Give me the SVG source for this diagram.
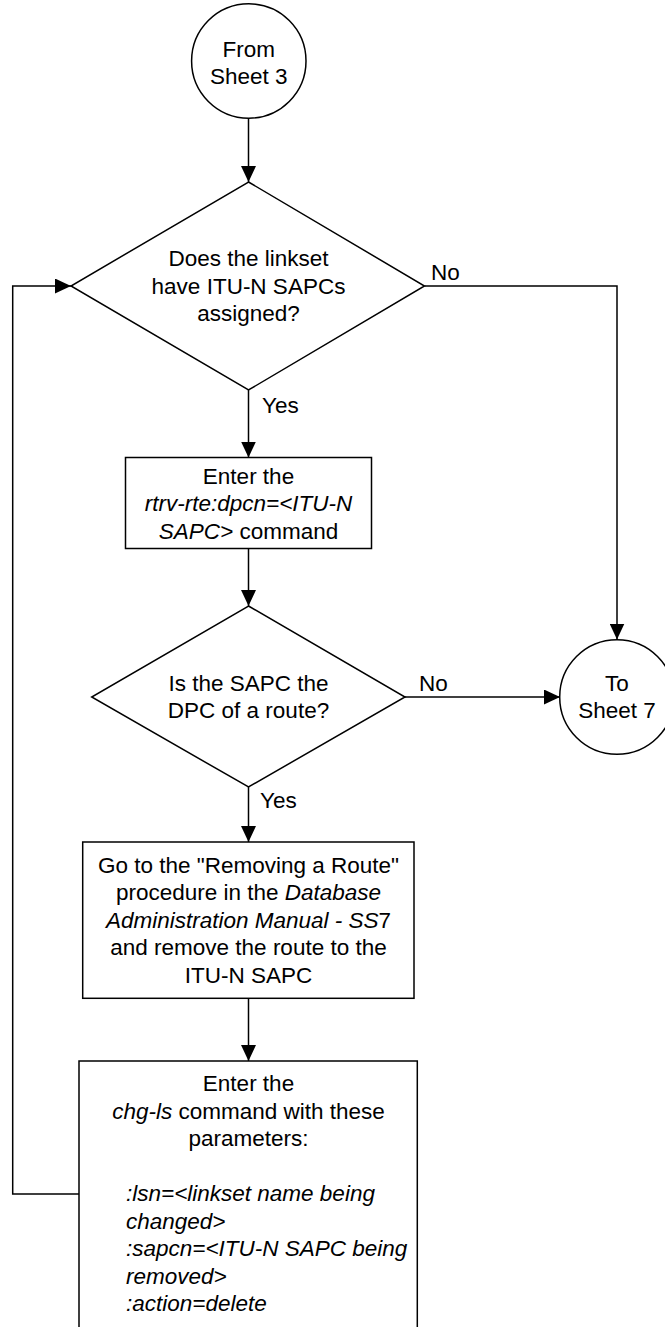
<svg xmlns="http://www.w3.org/2000/svg" width="665" height="1327" viewBox="0 0 665 1327">
<style>
.s{fill:#fff;stroke:#000;stroke-width:1.5}
.c{fill:none;stroke:#000;stroke-width:1.5}
text{font-family:"Liberation Sans",Arial,sans-serif;font-size:22.5px;fill:#000}
.m{text-anchor:middle}
.i{font-style:italic}
</style>
<defs>
<marker id="a" markerUnits="userSpaceOnUse" markerWidth="16" markerHeight="15" refX="16" refY="7.5" orient="auto">
<path d="M0,0 L16,7.5 L0,15 z" fill="#000"/>
</marker>
</defs>
<g id="connectors">
<path class="c" d="M248.5,118 V182" marker-end="url(#a)"/>
<path class="c" d="M248.5,390 V457.5" marker-end="url(#a)"/>
<path class="c" d="M248.5,548.5 V606" marker-end="url(#a)"/>
<path class="c" d="M248.5,787 V842" marker-end="url(#a)"/>
<path class="c" d="M248.5,998 V1061" marker-end="url(#a)"/>
<path class="c" d="M424.5,286 H617 V639.5" marker-end="url(#a)"/>
<path class="c" d="M405,697 H560" marker-end="url(#a)"/>
<path class="c" d="M79,1194 H12.7 V286 H71" marker-end="url(#a)"/>
<text x="431" y="280">No</text>
<text x="262" y="413">Yes</text>
<text x="419" y="691">No</text>
<text x="260" y="808">Yes</text>
</g>
<g id="from-sheet-3">
<circle class="s" cx="248.8" cy="61" r="57.2"/>
<text class="m" x="248.8" y="57">From</text>
<text class="m" x="248.8" y="84">Sheet 3</text>
</g>
<g id="linkset-sapcs">
<polygon class="s" points="248.5,182 424.5,286 248.5,390 71,286"/>
<text class="m" x="248.5" y="266">Does the linkset</text>
<text class="m" x="248.5" y="294">have ITU-N SAPCs</text>
<text class="m" x="248.5" y="321">assigned?</text>
</g>
<g id="rtrv-rte">
<rect class="s" x="125.5" y="457.5" width="246" height="91"/>
<text class="m" x="248.5" y="484">Enter the</text>
<text class="m i" x="248.5" y="511">rtrv-rte:dpcn=&lt;ITU-N</text>
<text class="m" x="248.5" y="539"><tspan class="i">SAPC&gt;</tspan> command</text>
</g>
<g id="sapc-dpc">
<polygon class="s" points="248.5,606 405,697 248.5,787 91.7,697"/>
<text class="m" x="248.5" y="691">Is the SAPC the</text>
<text class="m" x="248.5" y="718">DPC of a route?</text>
</g>
<g id="to-sheet-7">
<circle class="s" cx="617" cy="697" r="57.3"/>
<text class="m" x="617" y="691">To</text>
<text class="m" x="617" y="718">Sheet 7</text>
</g>
<g id="remove-route">
<rect class="s" x="82.7" y="842" width="331.3" height="156.3"/>
<text class="m" x="248.5" y="872.5">Go to the "Removing a Route"</text>
<text class="m" x="248.5" y="900">procedure in the <tspan class="i">Database</tspan></text>
<text class="m" x="248.5" y="927.5"><tspan class="i">Administration Manual - SS</tspan>7</text>
<text class="m" x="248.5" y="955">and remove the route to the</text>
<text class="m" x="248.5" y="982.5">ITU-N SAPC</text>
</g>
<g id="chg-ls">
<rect class="s" x="79" y="1061" width="338.3" height="290"/>
<text class="m" x="248.5" y="1091">Enter the</text>
<text class="m" x="248.5" y="1118.5"><tspan class="i">chg-ls</tspan> command with these</text>
<text class="m" x="248.5" y="1146">parameters:</text>
<text class="i" x="126" y="1201">:lsn=&lt;linkset name being</text>
<text class="i" x="126" y="1228.5">changed&gt;</text>
<text class="i" x="126" y="1256">:sapcn=&lt;ITU-N SAPC being</text>
<text class="i" x="126" y="1283.5">removed&gt;</text>
<text class="i" x="126" y="1311">:action=delete</text>
</g>
</svg>
